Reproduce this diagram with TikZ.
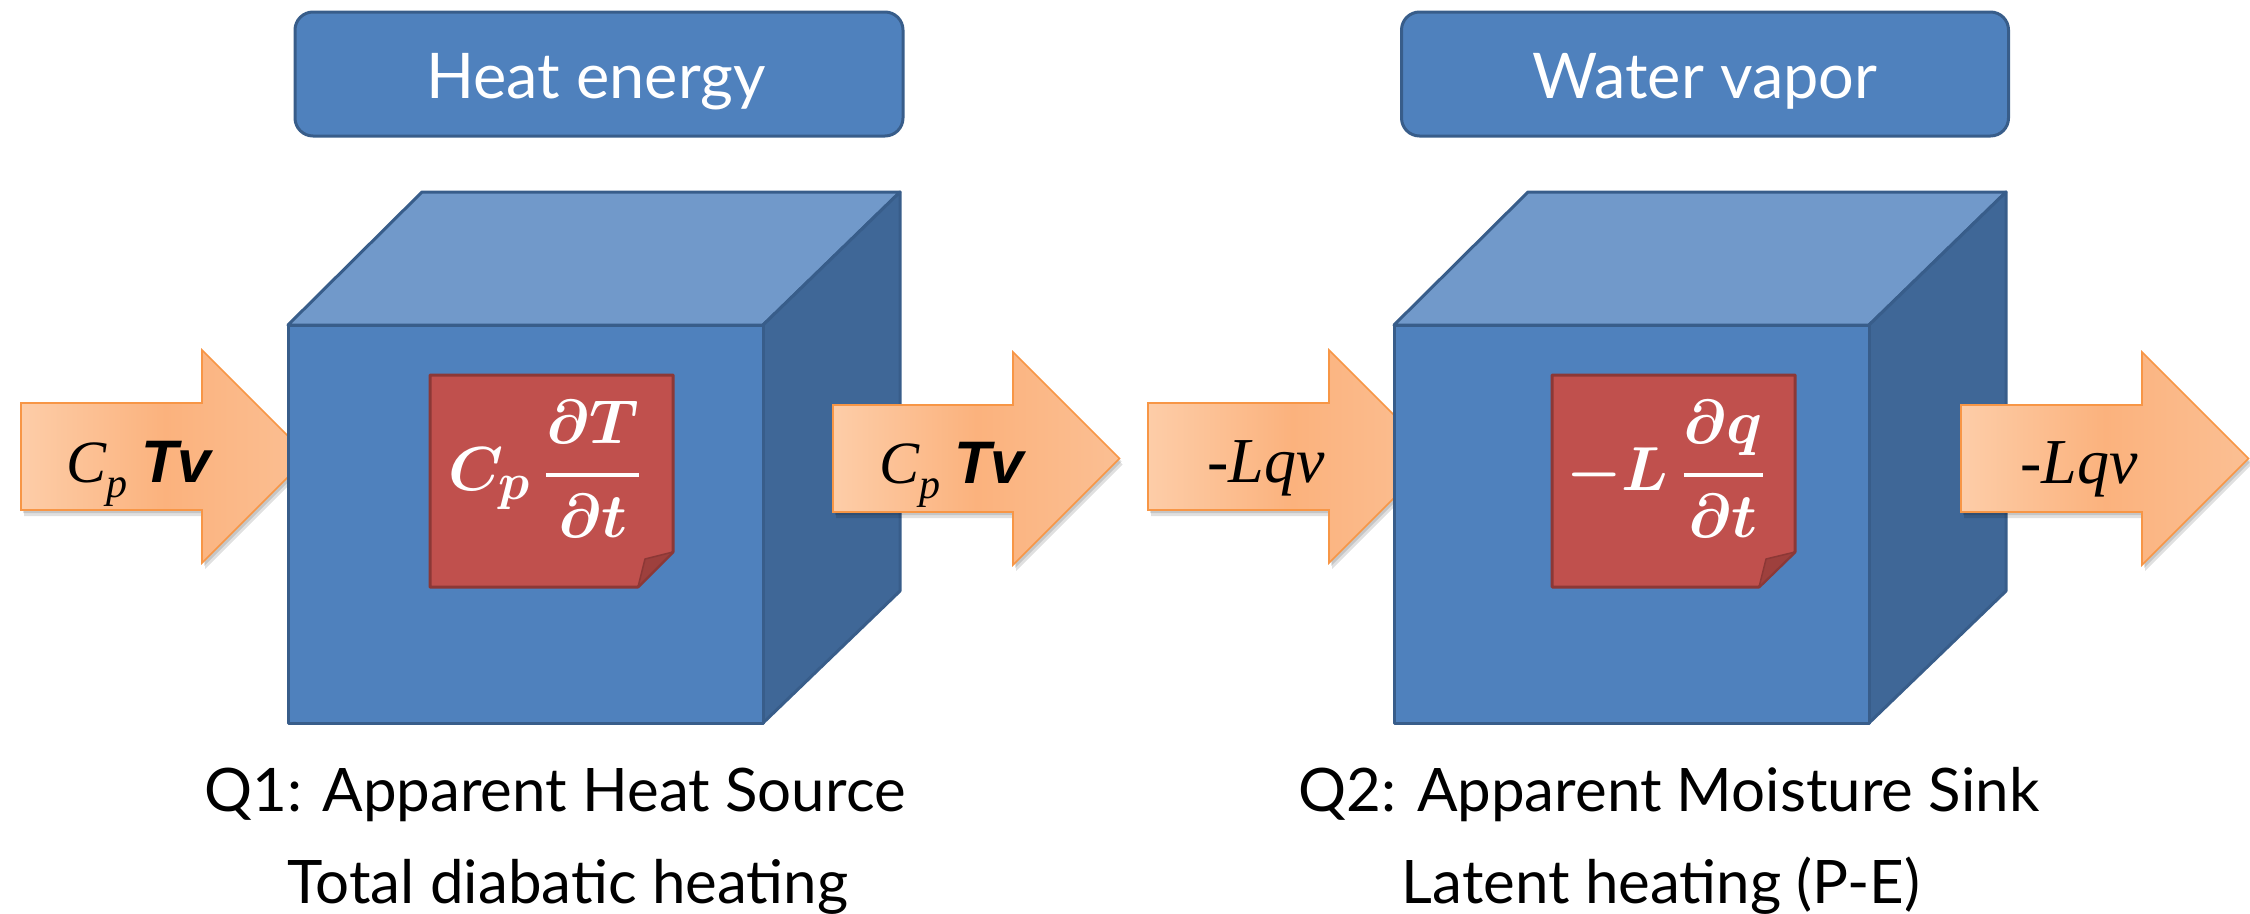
\documentclass[tikz,border=0pt]{standalone}
\usepackage{fontspec}
\setmainfont{Liberation Serif}
\newfontfamily\gillf{Lato}
\newfontfamily\arialf{Liberation Sans}
\usetikzlibrary{calc}
\definecolor{boxblue}{HTML}{4F81BD}
\definecolor{boxedge}{HTML}{385D8A}
\definecolor{topblue}{HTML}{7199CA}
\definecolor{sideblue}{HTML}{3F6797}
\definecolor{notered}{HTML}{C0504D}
\definecolor{noteedge}{HTML}{8C3836}
\definecolor{notefold}{HTML}{9E403D}
\definecolor{arrL}{HTML}{FDCDA8}
\definecolor{arrM}{HTML}{FBB27D}
\definecolor{arrR}{HTML}{FBBF93}
\definecolor{arredge}{HTML}{F79646}
\tikzset{
  titlebox/.style={draw=boxedge, fill=boxblue, line width=3pt, rounded corners=18pt},
  titletext/.style={anchor=base, inner sep=0pt, text=white, font=\gillf\fontsize{63}{70}\selectfont},
  captext/.style={anchor=base, inner sep=0pt, text=black, font=\gillf\fontsize{60}{70}\selectfont},
  face/.style={draw=boxedge, line width=3pt, line join=round},
  note/.style={draw=noteedge, fill=notered, line width=3pt, line join=round},
  flowarrow/.style={draw=arredge, line width=1.6pt, line join=miter, left color=arrL, right color=arrR, middle color=arrM},
  arrshadow/.style={fill=black, opacity=0.12, draw=none},
  arrtext/.style={anchor=base west, inner sep=0pt, text=black},
  mathtext/.style={inner sep=0pt, text=white}
}
\newcommand{\flowpath}[3]{% shaft left x, head base x, y offset
  (#1,403+#3) -- (#2,403+#3) -- (#2,350+#3) -- ($(#2,350+#3)+(106.5,106.5)$) -- (#2,563+#3) -- (#2,510+#3) -- (#1,510+#3) -- cycle}
\newcommand{\bigmath}[1]{\scalebox{2.5}{\fontsize{24.88}{30}\selectfont\boldmath$\displaystyle #1$}}
\newcommand{\thickfrac}[2]{{#1\above 1.8pt #2}}
\newcommand{\cptv}{{\fontsize{60}{64}\selectfont\itshape C}\raisebox{-15pt}{\fontsize{42}{46}\selectfont\itshape p}\hspace{14pt}{\arialf\fontsize{60}{64}\selectfont\bfseries\itshape Tv}}
\begin{document}
\begin{tikzpicture}[x=1pt,y=-1pt]
\useasboundingbox (0,0) rectangle (2250,913);
% ---- incoming arrows (behind the cubes)
\foreach \a/\b in {21/202, 1148/1329}{
  \fill[arrshadow] \flowpath{\a+3}{\b+3}{6};
  \fill[arrshadow] \flowpath{\a+2}{\b+2}{3};
  \path[flowarrow] \flowpath{\a}{\b}{0};
}
% ---- cubes
\foreach \dx in {0,1106}{
  \path[face, fill=topblue] (288+\dx,325) -- (422+\dx,192) -- (900+\dx,192) -- (763+\dx,325) -- cycle;
  \path[face, fill=sideblue] (763+\dx,325) -- (900+\dx,192) -- (900+\dx,591) -- (763+\dx,723) -- cycle;
  \path[face, fill=boxblue] (288+\dx,325) rectangle (763+\dx,723);
}
% ---- notes
\path[note] (430,375) -- (673,375) -- (673,552) -- (638,587) -- (430,587) -- cycle;
\path[fill=notefold, draw=noteedge, line width=1.5pt, line join=round] (673,552) -- (645,559) -- (638,587) -- cycle;
\path[note] (1552,375) -- (1795,375) -- (1795,552) -- (1759,587) -- (1552,587) -- cycle;
\path[fill=notefold, draw=noteedge, line width=1.5pt, line join=round] (1795,552) -- (1766,559) -- (1759,587) -- cycle;
\node[mathtext] (f1) at (545,469) {\bigmath{C_p\,\thickfrac{\partial T}{\partial t}}};
\node[mathtext] (f2) at (1666,469) {\bigmath{-L\,\thickfrac{\partial q}{\partial t}}};
% ---- outgoing arrows (in front)
\foreach \a/\b in {833/1013, 1961/2142}{
  \fill[arrshadow] \flowpath{\a+3}{\b+3}{8};
  \fill[arrshadow] \flowpath{\a+2}{\b+2}{5};
  \path[flowarrow] \flowpath{\a}{\b}{2};
}
% ---- arrow labels
\node[arrtext] (in1) at (66,482) {\cptv};
\node[arrtext] (out1) at (879,483) {\cptv};
\node[arrtext, font=\fontsize{64}{70}\selectfont\itshape] (in2) at (1207,482) {-Lqv};
\node[arrtext, font=\fontsize{64}{70}\selectfont\itshape] (out2) at (2020,483) {-Lqv};
% ---- title boxes
\node[titlebox, minimum width=608pt, minimum height=124pt] (t1) at (599,74) {};
\node[titletext] (t1txt) at (596,98) {Heat energy};
\node[titlebox, minimum width=607pt, minimum height=124pt] (t2) at (1705,74) {};
\node[titletext] (t2txt) at (1705,98) {Water vapor};
% ---- captions
\node[captext] (c1a) at (555,811) {Q1: Apparent Heat Source};
\node[captext] (c1b) at (568,903) {Total diabatic heating};
\node[captext] (c2a) at (1669,811) {Q2: Apparent Moisture Sink};
\node[captext] (c2b) at (1661,903) {Latent heating (P-E)};
\end{tikzpicture}
\end{document}
